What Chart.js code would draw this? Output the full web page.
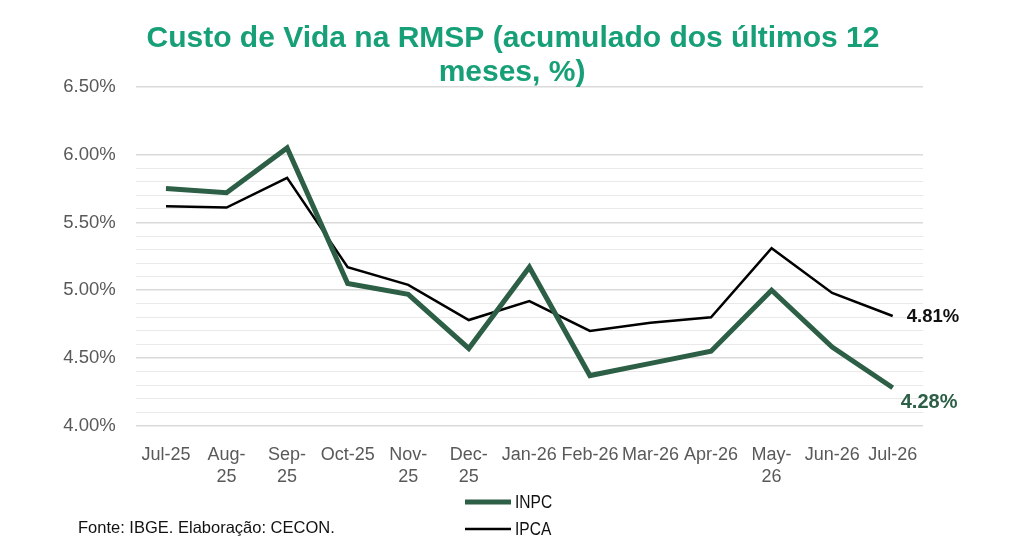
<!DOCTYPE html>
<html>
<head>
<meta charset="utf-8">
<script src="https://cdn.jsdelivr.net/npm/chart.js@4/dist/chart.umd.min.js"></script>
<style>
html,body{margin:0;padding:0;background:#fff;}
#wrap{width:1024px;height:551px;}
</style>
</head>
<body>
<div id="wrap"><canvas id="c" width="1024" height="551"></canvas></div>
<script>
const categories = [
  "Jul-25", ["Aug-","25"], ["Sep-","25"], "Oct-25", ["Nov-","25"], ["Dec-","25"],
  "Jan-26", "Feb-26", "Mar-26", "Apr-26", ["May-","26"], "Jun-26", "Jul-26"
];
const inpc = [5.75, 5.72, 6.05, 5.05, 4.97, 4.57, 5.17, 4.37, 4.46, 4.55, 5.00, 4.58, 4.28];
const ipca = [5.62, 5.61, 5.83, 5.17, 5.04, 4.78, 4.92, 4.70, 4.76, 4.80, 5.31, 4.98, 4.81];
const titleLines = ["Custo de Vida na RMSP (acumulado dos últimos 12", "meses, %)"];
const sourceText = "Fonte: IBGE. Elaboração: CECON.";
const yMin = 4.0, yMax = 6.5, yStep = 0.1;

const GREEN = "#2c5f46";
const TITLE = "#17a077";
const AXISTXT = "#595959";
const FONT = "Arial, 'Liberation Sans', sans-serif";

function isMajor(v){ return Math.abs(v*2 - Math.round(v*2)) < 1e-6; }

const decor = {
  id: "decor",
  afterDraw(chart){
    const ctx = chart.ctx;
    ctx.save();
    // title
    ctx.fillStyle = TITLE;
    ctx.font = "bold 30px " + FONT;
    ctx.textAlign = "center";
    ctx.textBaseline = "middle";
    ctx.fillText(titleLines[0], 513, 39);
    ctx.fillText(titleLines[1], 512, 73);
    // end labels
    const m0 = chart.getDatasetMeta(0).data;
    const m1 = chart.getDatasetMeta(1).data;
    const p0 = m0[m0.length-1], p1 = m1[m1.length-1];
    ctx.textAlign = "left";
    ctx.fillStyle = "#111111";
    ctx.font = "bold 18.5px " + FONT;
    ctx.fillText(ipca[ipca.length-1].toFixed(2) + "%", p1.x + 14, p1.y + 1);
    ctx.fillStyle = GREEN;
    ctx.font = "bold 20px " + FONT;
    ctx.fillText(inpc[inpc.length-1].toFixed(2) + "%", p0.x + 8, p0.y + 15);
    // legend
    const ds = chart.data.datasets;
    const ly = [502, 529];
    ds.forEach((d, i) => {
      ctx.strokeStyle = d.borderColor;
      ctx.lineWidth = d.borderWidth;
      ctx.beginPath();
      ctx.moveTo(465, ly[i]);
      ctx.lineTo(511, ly[i]);
      ctx.stroke();
      ctx.save();
      ctx.fillStyle = "#111111";
      ctx.font = "18.5px " + FONT;
      ctx.textAlign = "left";
      ctx.textBaseline = "middle";
      ctx.translate(515, ly[i] + 1);
      ctx.scale(0.84, 1);
      ctx.fillText(d.label, 0, 0);
      ctx.restore();
    });
    // source
    ctx.fillStyle = "#111111";
    ctx.font = "16.5px " + FONT;
    ctx.textAlign = "left";
    ctx.textBaseline = "middle";
    ctx.fillText(sourceText, 78, 528);
    ctx.restore();
  }
};

new Chart(document.getElementById("c"), {
  type: "line",
  data: {
    labels: categories,
    datasets: [
      { label: "INPC", data: inpc, borderColor: GREEN, backgroundColor: GREEN, borderWidth: 5, pointRadius: 0, tension: 0, borderJoinStyle: "miter", borderCapStyle: "butt" },
      { label: "IPCA", data: ipca, borderColor: "#000000", backgroundColor: "#000000", borderWidth: 2.5, pointRadius: 0, tension: 0, borderJoinStyle: "miter", borderCapStyle: "butt" }
    ]
  },
  options: {
    responsive: false,
    devicePixelRatio: 1,
    animation: false,
    events: [],
    layout: { padding: { top: 87, right: 101, bottom: 0, left: 0 } },
    plugins: { legend: { display: false }, title: { display: false }, tooltip: { enabled: false } },
    scales: {
      x: {
        offset: true,
        grid: { display: false, drawTicks: false },
        border: { display: false },
        ticks: { color: AXISTXT, font: { family: FONT, size: 18, lineHeight: 1.2 }, padding: 19, maxRotation: 0, autoSkip: false },
        afterFit(s){ s.height = 551 - 425.7; }
      },
      y: {
        min: yMin, max: yMax,
        grid: {
          drawTicks: false,
          color(c){
            const v = c.tick.value;
            if (isMajor(v)) return "#d9d9d9";
            if (v > 6.0 + 1e-6) return "rgba(0,0,0,0)";
            return "#e9e9e9";
          },
          lineWidth(c){ return isMajor(c.tick.value) ? 1.5 : 1; }
        },
        border: { display: false },
        ticks: {
          stepSize: yStep, autoSkip: false, color: AXISTXT, padding: 20,
          font: { family: FONT, size: 18.5 },
          callback(v){ return isMajor(v) ? Number(v).toFixed(2) + "%" : ""; }
        },
        afterFit(s){ s.width = 135.7; }
      }
    }
  },
  plugins: [decor]
});
</script>
</body>
</html>
